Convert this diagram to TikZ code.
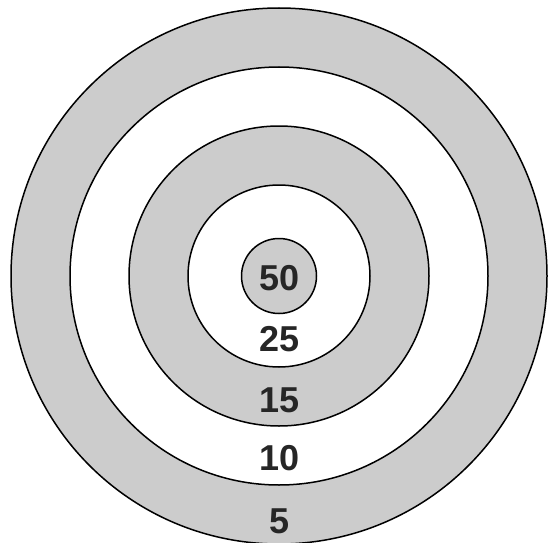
\documentclass[tikz,border=0pt]{standalone}
\usepackage{fontspec}
\setmainfont{Liberation Sans}
\definecolor{ringgray}{RGB}{204,204,204}
\begin{document}
\begin{tikzpicture}[x=1pt,y=-1pt,
  ring/.style={draw=black,line width=1.5pt},
  score/.style={font=\fontsize{36}{36}\selectfont\bfseries,text=black!85,inner sep=0pt,anchor=center}]
\useasboundingbox (0,0) rectangle (549,543);
\fill[white] (0,0) rectangle (549,543);
\coordinate (c) at (279,276);
\fill[ringgray] (c) circle[radius=268];
\fill[white] (c) circle[radius=209];
\fill[ringgray] (c) circle[radius=150];
\fill[white] (c) circle[radius=91];
\fill[ringgray] (c) circle[radius=37.5];
\foreach \r in {268,209,150,91,37.5} \draw[ring] (c) circle[radius=\r];
\node[score] (s50) at (280,278) {50};
\node[score] (s25) at (280,339) {25};
\node[score] (s15) at (280,400) {15};
\node[score] (s10) at (280,458) {10};
\node[score] (s5) at (280,521) {5};
\end{tikzpicture}
\end{document}
